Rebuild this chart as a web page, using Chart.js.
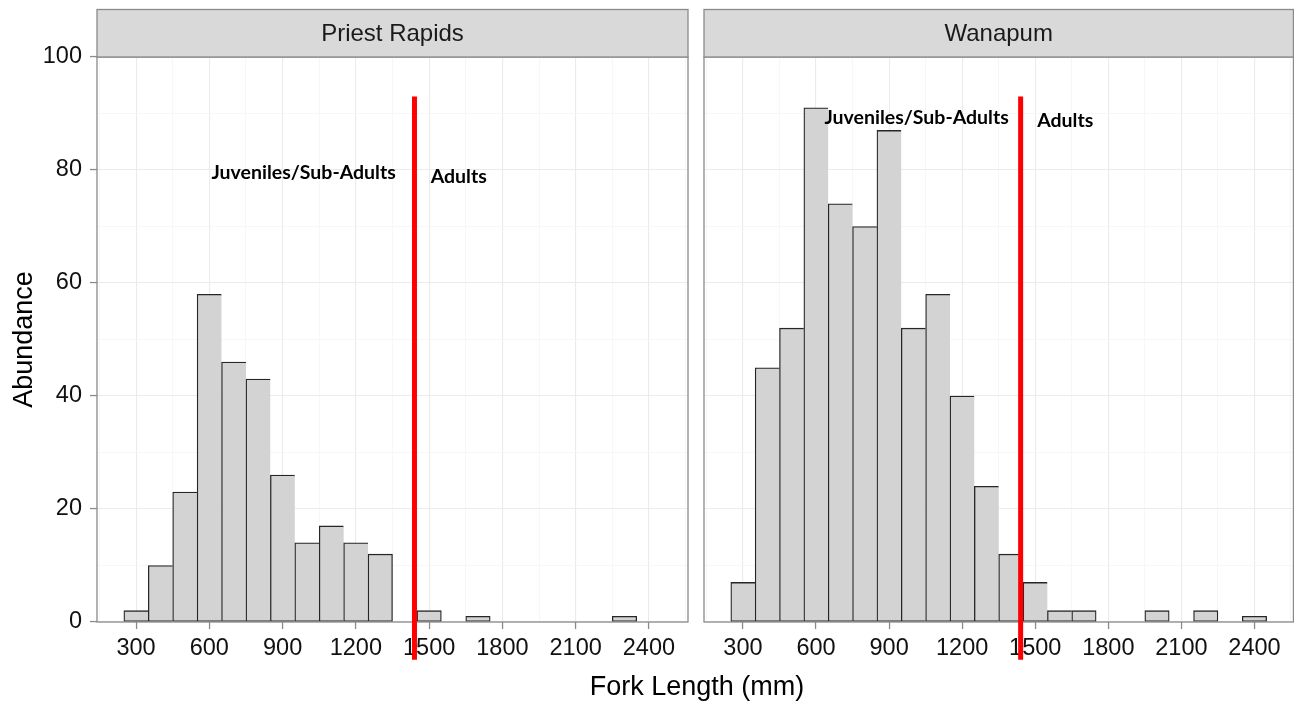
<!DOCTYPE html>
<html>
<head>
<meta charset="utf-8">
<script src="https://cdn.jsdelivr.net/npm/chart.js@4.4.1/dist/chart.umd.min.js"></script>
<style>
html,body{margin:0;padding:0;background:#fff;overflow:hidden;}
#wrap{position:relative;width:1294px;height:702px;overflow:hidden;background:#fff;}
#c1{position:absolute;left:0;top:0;}
#c2{position:absolute;left:696px;top:0;}
#xtitle{position:absolute;left:547px;width:300px;top:673px;text-align:center;
  font-family:"Liberation Sans",Arial,sans-serif;font-size:27px;line-height:1;color:#000;white-space:nowrap;}
</style>
</head>
<body>
<div id="wrap">
  <canvas id="c1" width="696" height="702"></canvas>
  <canvas id="c2" width="600" height="702"></canvas>
  <div id="xtitle">Fork Length (mm)</div>
</div>
<script>
// ---- data ----
const binCenters = [300,400,500,600,700,800,900,1000,1100,1200,1300,1400,1500,1600,1700,1800,1900,2000,2100,2200,2300,2400];
const priestRapidsCounts = [2,10,23,58,46,43,26,14,17,14,12,0,2,0,1,0,0,0,0,0,1,0];
const wanapumCounts      = [7,45,52,91,74,70,87,52,58,40,24,12,7,2,2,0,0,2,0,2,0,1];
const xTickLabels = [300,600,900,1200,1500,1800,2100,2400];
const yTickLabels = [0,20,40,60,80,100];
const panelTitles = ['Priest Rapids','Wanapum'];
const annotationTexts = ['Juveniles/Sub-Adults','Adults'];
const cutoffLength = 1440;          // mm, red divider
const cutoffRange = [-6.7, 93];     // abundance span of the red divider
const priestTextAnchors  = [[986, 79.6],[1621, 78.8]];
const wanapumTextAnchors = [[1013, 89.3],[1623, 88.7]];

// ---- derived helpers ----
const xStep = xTickLabels[1] - xTickLabels[0];
const xGridValues = [];
xTickLabels.forEach(v => { xGridValues.push(v - xStep/2); xGridValues.push(v); });
xGridValues.push(xTickLabels[xTickLabels.length-1] + xStep/2);
const yStep = yTickLabels[1] - yTickLabels[0];

const FONT = '"Liberation Sans", Arial, sans-serif';
const MAJOR = '#ebebeb', MINOR = '#f5f5f5';

function makeChart(canvasId, counts, title, anchors, showY) {
  const points = binCenters.map((x, i) => ({x: x, y: counts[i]})).filter(p => p.y > 0);
  const panelPlugin = {
    id: 'panel' + canvasId,
    afterDraw(chart) {
      const {ctx, chartArea: a, scales} = chart;
      ctx.save();
      ctx.strokeStyle = '#8a8a8a';
      ctx.lineWidth = 1.3;
      ctx.strokeRect(a.left, a.top, a.right - a.left, a.bottom - a.top);
      ctx.fillStyle = '#d9d9d9';
      ctx.fillRect(a.left, 9.5, a.right - a.left, a.top - 9.5);
      ctx.strokeRect(a.left, 9.5, a.right - a.left, a.top - 9.5);
      ctx.fillStyle = '#1a1a1a';
      ctx.font = '24px ' + FONT;
      ctx.textAlign = 'center';
      ctx.textBaseline = 'middle';
      ctx.fillText(title, (a.left + a.right) / 2, (9.5 + a.top) / 2 + 1);
      const xp = scales.x.getPixelForValue(cutoffLength);
      ctx.strokeStyle = '#ff0000';
      ctx.lineWidth = 5;
      ctx.beginPath();
      ctx.moveTo(xp, scales.y.getPixelForValue(cutoffRange[1]));
      ctx.lineTo(xp, scales.y.getPixelForValue(cutoffRange[0]));
      ctx.stroke();
      ctx.fillStyle = '#000';
      ctx.font = 'bold 19.5px Lato, "Open Sans", sans-serif';
      annotationTexts.forEach((t, i) => {
        ctx.fillText(t, scales.x.getPixelForValue(anchors[i][0]), scales.y.getPixelForValue(anchors[i][1]));
      });
      ctx.restore();
    }
  };
  const tv = c => (c && c.tick) ? c.tick.value : NaN;
  const isMajorX = v => xTickLabels.includes(v);
  const isMajorY = v => yTickLabels.includes(v);
  return new Chart(document.getElementById(canvasId), {
    type: 'bar',
    data: {
      datasets: [{
        data: points,
        backgroundColor: '#d3d3d3',
        borderColor: '#262626',
        borderSkipped: false,
        borderWidth: (c) => {
          const idx = (c && c.raw) ? binCenters.indexOf(c.raw.x) : -1;
          const nextEmpty = idx < 0 || idx === binCenters.length - 1 || counts[idx + 1] === 0;
          return {top: 1.3, left: 1.3, bottom: 1.3, right: nextEmpty ? 1.3 : 0};
        },
        barPercentage: 1.0,
        categoryPercentage: 1.0
      }]
    },
    options: {
      responsive: false,
      animation: false,
      events: [],
      layout: {padding: {top: 57, right: showY ? 8 : 1, left: showY ? 0 : 8, bottom: 0}},
      plugins: {legend: {display: false}, tooltip: {enabled: false}},
      scales: {
        x: {
          type: 'linear',
          offset: false,
          min: 140, max: 2560,
          afterBuildTicks: s => { s.ticks = xGridValues.map(v => ({value: v})); },
          afterFit: s => { s.height = 80; },
          border: {display: false},
          grid: {
            offset: false,
            color: c => isMajorX(tv(c)) ? MAJOR : MINOR,
            lineWidth: c => isMajorX(tv(c)) ? 1.1 : 0.8,
            tickColor: c => isMajorX(tv(c)) ? '#8a8a8a' : 'rgba(0,0,0,0)',
            tickLength: 7,
            tickWidth: 1.3
          },
          ticks: {
            autoSkip: false, maxRotation: 0, minRotation: 0,
            padding: 5,
            color: '#111',
            font: {family: FONT, size: 23.5},
            callback: v => isMajorX(v) ? String(v) : ''
          }
        },
        y: {
          min: 0, max: 100,
          afterBuildTicks: s => {
            const t = [];
            for (let v = yTickLabels[0]; v <= yTickLabels[yTickLabels.length-1]; v += yStep/2) t.push({value: v});
            s.ticks = t;
          },
          afterFit: s => { s.width = showY ? 97 : 0; },
          border: {display: false},
          grid: {
            color: c => isMajorY(tv(c)) ? MAJOR : MINOR,
            lineWidth: c => isMajorY(tv(c)) ? 1.1 : 0.8,
            tickColor: c => isMajorY(tv(c)) ? '#8a8a8a' : 'rgba(0,0,0,0)',
            drawTicks: showY,
            tickLength: 7,
            tickWidth: 1.3
          },
          ticks: {
            display: showY,
            autoSkip: false,
            padding: 8,
            color: '#111',
            font: {family: FONT, size: 23.5},
            callback: v => isMajorY(v) ? String(v) : ''
          },
          title: {
            display: showY,
            text: 'Abundance',
            color: '#000',
            font: {family: FONT, size: 27},
            padding: {top: 8, bottom: 0}
          }
        }
      }
    },
    plugins: [panelPlugin]
  });
}

makeChart('c1', priestRapidsCounts, panelTitles[0], priestTextAnchors, true);
makeChart('c2', wanapumCounts, panelTitles[1], wanapumTextAnchors, false);
</script>
</body>
</html>
